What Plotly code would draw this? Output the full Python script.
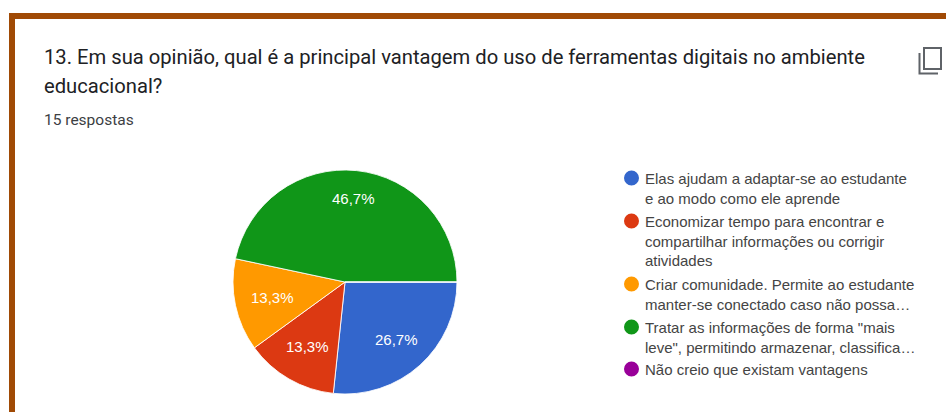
import math
import plotly.graph_objects as go

W, H = 946, 412
categories = ["Elas ajudam a adaptar-se ao estudante<br>e ao modo como ele aprende",
              "Economizar tempo para encontrar e<br>compartilhar informações ou corrigir<br>atividades",
              "Criar comunidade. Permite ao estudante<br>manter-se conectado caso não possa…",
              "Tratar as informações de forma \"mais<br>leve\", permitindo armazenar, classifica…",
              "Não creio que existam vantagens"]
values = [4, 2, 2, 7, 0]
labels_pt = ["26,7%", "13,3%", "13,3%", "46,7%", ""]
colors = ["#3366cc", "#dc3912", "#ff9900", "#109618", "#990099"]
title_lines = ["13. Em sua opinião, qual é a principal vantagem do uso de ferramentas digitais no ambiente",
               "educacional?"]
subtitle = "15 respostas"
legend_marker_y = [178, 221, 284, 327, 369]
legend_text_top = [169, 212, 275, 318, 360]
title_y = [57, 86]
label_radius = [77, 75, 74, 84, 0]

def px(x): return x / W
def py(y): return 1 - y / H

CX, CY, R = 345, 282, 112

fig = go.Figure(go.Pie(
    values=values, labels=categories, textinfo="none",
    sort=False, direction="clockwise", rotation=90,
    marker=dict(colors=colors, line=dict(color="rgba(255,255,255,0.85)", width=1)),
    domain=dict(x=[px(CX - R), px(CX + R)], y=[py(CY + R), py(CY - R)]),
    showlegend=False, hoverinfo="skip"))

shapes = [
    dict(type="rect", xref="paper", yref="paper", x0=px(12), x1=px(960), y0=py(16), y1=py(430),
         line=dict(color="#a04a05", width=6), fillcolor="rgba(0,0,0,0)"),
    dict(type="rect", xref="paper", yref="paper", x0=px(924), x1=px(941), y0=py(48), y1=py(69),
         line=dict(color="#5f6368", width=2)),
    dict(type="path", xref="paper", yref="paper",
         path=f"M {px(919.5)} {py(53)} L {px(919.5)} {py(73.5)} L {px(938)} {py(73.5)}",
         line=dict(color="#5f6368", width=2)),
]
for y, c in zip(legend_marker_y, colors):
    shapes.append(dict(type="circle", xref="paper", yref="paper",
                       x0=px(624), x1=px(639), y0=py(y - 7.5), y1=py(y + 7.5),
                       fillcolor=c, line=dict(width=0)))

ann = []
for t, y in zip(title_lines, title_y):
    ann.append(dict(text=t, x=px(42.5), y=py(y), xref="paper", yref="paper", xanchor="left", yanchor="middle",
                    showarrow=False, borderpad=0, font=dict(family="Roboto", size=20.2, color="#202124")))
ann.append(dict(text=subtitle, x=px(42.5), y=py(120), xref="paper", yref="paper", xanchor="left", yanchor="middle",
                showarrow=False, borderpad=0, font=dict(family="Roboto", size=15.5, color="#3c4043")))
for t, y in zip(categories, legend_text_top):
    ann.append(dict(text=t, x=px(643.5), y=py(y), xref="paper", yref="paper", xanchor="left", yanchor="top",
                    align="left", showarrow=False, borderpad=0,
                    font=dict(family="Liberation Sans", size=15, color="#444444")))

total = sum(values)
cum = 0
for v, lab, r in zip(values, labels_pt, label_radius):
    mid = (cum + v / 2) / total * 2 * math.pi
    cum += v
    if lab:
        ann.append(dict(text=lab, x=px(CX + r * math.cos(mid)), y=py(CY + r * math.sin(mid)),
                        xref="paper", yref="paper", xanchor="center", yanchor="middle", showarrow=False,
                        font=dict(family="Liberation Sans", size=15, color="white")))

fig.update_layout(width=W, height=H, margin=dict(l=0, r=0, t=0, b=0),
                  paper_bgcolor="white", plot_bgcolor="white",
                  shapes=shapes, annotations=ann)
fig.write_html("out.html", config=dict(displayModeBar=False),
               post_script="document.body.style.margin='0';document.body.style.overflow='hidden';"
                           "document.documentElement.style.overflow='hidden';")
